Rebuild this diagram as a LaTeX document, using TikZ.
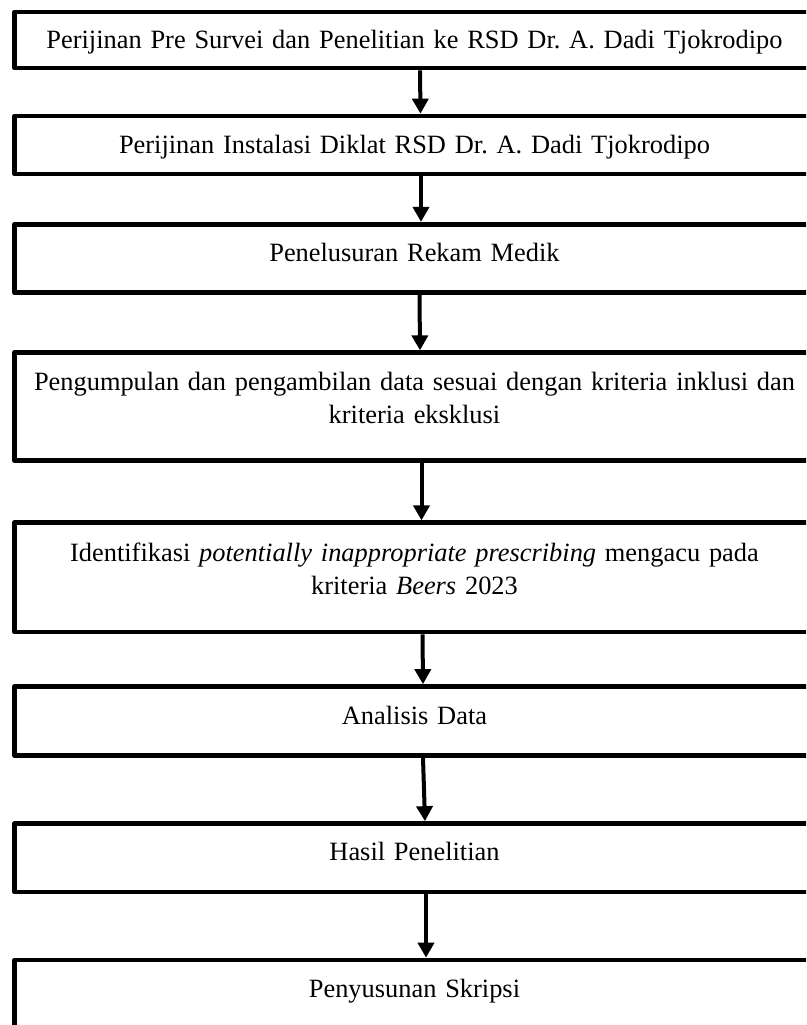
\documentclass[tikz,border=0pt]{standalone}
\usepackage{fontspec}
\setmainfont{Liberation Serif}
\usetikzlibrary{arrows.meta}
\frenchspacing
\begin{document}
\begin{tikzpicture}[x=1pt,y=-1pt,
  box/.style={draw, line width=4.7pt, line join=round, minimum width=800pt, inner sep=0pt},
  txt/.style={anchor=base, text width=790pt, align=center, inner sep=0pt, font=\fontsize{26.4pt}{33pt}\selectfont\frenchspacing},
  arr/.style={line width=4pt, -{Triangle[width=16pt,length=15pt]}}]
\useasboundingbox (0,0) rectangle (806,1025);
\clip (0,0) rectangle (806,1025);
\fill[white] (0,0) rectangle (806,1025);
\node[box, minimum height=56pt]    (b1) at (414.5,40) {};
\node[box, minimum height=58pt]    (b2) at (414.5,145) {};
\node[box, minimum height=68.5pt]  (b3) at (414.5,258.5) {};
\node[box, minimum height=108pt]   (b4) at (414.5,406.7) {};
\node[box, minimum height=109.3pt] (b5) at (414.5,577.4) {};
\node[box, minimum height=69pt]    (b6) at (414.5,721) {};
\node[box, minimum height=68.5pt]  (b7) at (414.5,857.75) {};
\node[box, minimum height=90pt]    (b8) at (414.5,1005) {};
\node[txt] (t1) at (414.5,48.5) {Perijinan Pre Survei dan Penelitian ke RSD Dr. A. Dadi Tjokrodipo};
\node[txt] (t2) at (414.5,153) {Perijinan Instalasi Diklat RSD Dr. A. Dadi Tjokrodipo};
\node[txt] (t3) at (414.5,261) {Penelusuran Rekam Medik};
\node[txt] (t4) at (414.5,390) {Pengumpulan dan pengambilan data sesuai dengan kriteria inklusi dan\\kriteria eksklusi};
\node[txt] (t5) at (414.5,561) {Identifikasi \textit{potentially inappropriate prescribing} mengacu pada\\kriteria \textit{Beers} 2023};
\node[txt] (t6) at (414.5,724) {Analisis Data};
\node[txt] (t7) at (414.5,860) {Hasil Penelitian};
\node[txt] (t8) at (414.5,997) {Penyusunan Skripsi};
\draw[arr] ([xshift=5.5pt]b1.south) -- ([xshift=6pt]b2.north);
\draw[arr] ([xshift=6.5pt]b2.south) -- ([xshift=6.5pt]b3.north);
\draw[arr] ([xshift=5pt]b3.south) -- ([xshift=5.5pt]b4.north);
\draw[arr] ([xshift=7pt]b4.south) -- ([xshift=7pt]b5.north);
\draw[arr] ([xshift=8pt]b5.south) -- ([xshift=8.5pt]b6.north);
\draw[arr] ([xshift=8.5pt]b6.south) -- ([xshift=10.5pt]b7.north);
\draw[arr] ([xshift=11.5pt]b7.south) -- ([xshift=11.5pt]b8.north);
\end{tikzpicture}
\end{document}
